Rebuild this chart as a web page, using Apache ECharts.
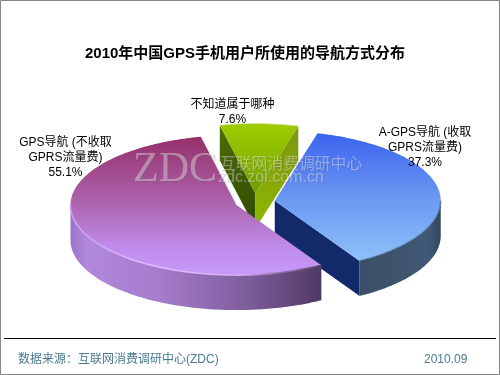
<!DOCTYPE html>
<html><head><meta charset="utf-8">
<style>html,body{margin:0;padding:0;background:#fff}#c{width:500px;height:375px}</style>
<script src="https://cdn.jsdelivr.net/npm/echarts@6/dist/echarts.min.js"></script>
</head><body><div id="c"></div>
<script>
const categories = ['不知道属于哪种', 'A-GPS导航 (收取\nGPRS流量费)', 'GPS导航 (不收取\nGPRS流量费)'];
const values = [7.6, 37.3, 55.1];
const chartTitle = '2010年中国GPS手机用户所使用的导航方式分布';
const sourceNote = '数据来源：互联网消费调研中心(ZDC)';
const dateNote = '2010.09';

const FONT = '"Liberation Sans","Noto Sans CJK SC",sans-serif';
const CX = 255, CY = 202, RX = 166, RY = 70, DEPTH = 35, EXPLODE = 0.12, START = 102.4;
const grad = (x, y, x2, y2, stops) => ({type:'linear', x, y, x2, y2,
  colorStops: stops.map((c, i) => Array.isArray(c) ? {offset:c[0], color:c[1]} : {offset:i/(stops.length-1), color:c})});

const looks = [
  { top: grad(0,0,0,1,['#9dcc00','#8ab800','#6f9a00']),
    startWall: grad(0,0,1,1,['#4f6c08','#2f4a00']),
    endWall: grad(1,0,0,1,['#7c9610','#90b800']),
    outer: grad(0,0,1,0,['#607a00','#607a00']), rim: 'rgba(210,225,150,0.7)', rimBack: true },
  { top: grad(0,0,0,1,['#3a63ef','#6b97f2','#8dc1f9']),
    startWall: '#12296a', endWall: '#12296a',
    outer: grad(0,0,1,0,[[0,'#3b4f68'],[0.6,'#3f566f'],[0.85,'#3f5a78'],[1,'#33465c']]),
    rim: 'rgba(60,80,110,0.55)' },
  { top: grad(0,0,0,1,[[0,'#95306a'],[0.45,'#ab60aa'],[0.8,'#c08cec'],[1,'#c799f8']]),
    startWall: '#503a66', endWall: '#503a66',
    outer: grad(0,0,1,0,[[0,'#9a72c8'],[0.06,'#b189da'],[0.35,'#a67ccd'],[0.72,'#7b5b98'],[1,'#4f3965']]),
    rim: grad(0,0,1,0,[[0,'#c99cf5'],[0.35,'#e4bcff'],[0.68,'#d8aef5'],[0.85,'#8a6a9e'],[1,'#59436e']]) }
];

function arc(px, py, a0, a1, dy) {
  const pts = [], n = Math.max(2, Math.ceil(Math.abs(a1 - a0)));
  for (let i = 0; i <= n; i++) {
    const t = (a0 + (a1 - a0) * i / n) * Math.PI / 180;
    pts.push([px + RX * Math.cos(t), py - RY * Math.sin(t) + dy]);
  }
  return pts;
}

function renderSlice(params, api) {
  const i = params.dataIndex;
  const total = values.reduce((s, v) => s + v, 0);
  const before = values.slice(0, i).reduce((s, v) => s + v, 0);
  const a0 = START - before / total * 360;
  const a1 = a0 - api.value(0) / total * 360;
  const mid = (a0 + a1) / 2 * Math.PI / 180;
  const px = CX + EXPLODE * RX * Math.cos(mid);
  const py = CY - EXPLODE * RY * Math.sin(mid);
  const look = looks[i];
  const kids = [];
  const cutWall = (a, fill) => {
    const [p] = arc(px, py, a, a, 0);
    kids.push({type:'polygon', shape:{points:[[px,py],p,[p[0],p[1]+DEPTH],[px,py+DEPTH]]},
      style:{fill}});
  };
  if (Math.cos(a0 * Math.PI / 180) < 0) cutWall(a0, look.startWall);
  if (Math.cos(a1 * Math.PI / 180) > 0) cutWall(a1, look.endWall);
  // outer curved wall: only the part of the arc facing the viewer (0 to -180 degrees)
  let w0 = Math.min(a0, 0), w1 = Math.max(a1, -180);
  if (w0 > w1) {
    const topPts = arc(px, py, w0, w1, 0);
    const botPts = arc(px, py, w1, w0, DEPTH);
    kids.push({type:'polygon', shape:{points: topPts.concat(botPts)}, style:{fill: look.outer}});
  }
  kids.push({type:'polygon', shape:{points:[[px,py]].concat(arc(px, py, a0, a1, 0))}, style:{fill: look.top}});
  if (w0 > w1) {
    kids.push({type:'polyline', shape:{points: arc(px, py, w0, w1, 0)},
      style:{stroke: look.rim, lineWidth: 1.6, fill: null}});
  }
  if (look.rimBack) {
    kids.push({type:'polyline', shape:{points: arc(px, py, a0, a1, 0)},
      style:{stroke: look.rim, lineWidth: 1, fill: null}});
  }
  return {type:'group', children: kids};
}

function renderLabel(params, api) {
  const i = params.dataIndex;
  const anchors = [[232.5, 97], [425, 125], [65.5, 135]];
  return {type:'text', z2: 100, style:{
    x: anchors[i][0], y: anchors[i][1],
    text: categories[i] + '\n' + api.value(0).toFixed(1) + '%',
    fill:'#000', font:'12px ' + FONT, lineHeight: 15,
    textAlign:'center', textVerticalAlign:'top'
  }};
}

const sliceData = values.map((v, i) => ({name: categories[i], value: [v]}));
const tx = (x, y, text, font, fill, extra) => ({type:'text', x, y, silent:true,
  style:Object.assign({text, font, fill, textVerticalAlign:'middle'}, extra || {})});
const mark = (text, x, y, font) => [
  tx(x + 1, y + 1, text, font, 'rgba(90,90,90,0.25)'),
  tx(x, y, text, font, 'rgba(255,255,255,0.36)')
];

const chart = echarts.init(document.getElementById('c'), null, {renderer:'canvas', width:500, height:375});
chart.setOption({
  animation:false,
  backgroundColor:'#fff',
  series:[
    {type:'custom', coordinateSystem:'none', z:2, silent:true, renderItem:renderSlice, data:sliceData},
    {type:'custom', coordinateSystem:'none', z:5, silent:true, renderItem:renderLabel, data:sliceData}
  ],
  graphic:{elements:[
    {type:'rect', z:0, shape:{x:0.5,y:0.5,width:499,height:374}, style:{fill:null, stroke:'#868686', lineWidth:1}, silent:true},
    Object.assign(tx(245, 54, chartTitle, 'bold 15px ' + FONT, '#000', {textAlign:'center'}), {z:10}),
    {type:'line', z:10, shape:{x1:4,y1:338.5,x2:496,y2:338.5}, style:{stroke:'#000', lineWidth:1}, silent:true},
    Object.assign(tx(18, 360, sourceNote, '12px ' + FONT, '#4a7b90'), {z:10}),
    Object.assign(tx(424, 360, dateNote, '12px ' + FONT, '#4a7b90'), {z:10}),
    ...mark('ZDC', 133, 170, '42px "Liberation Serif",serif').map(e => Object.assign(e, {z:8})),
    ...mark('互联网消费调研中心', 220, 163, '15.8px "Noto Sans CJK SC",sans-serif').map(e => Object.assign(e, {z:8})),
    ...mark('zdc.zol.com.cn', 218, 178, '16px "Liberation Sans",sans-serif').map(e => Object.assign(e, {z:8}))
  ]}
});
</script></body></html>
